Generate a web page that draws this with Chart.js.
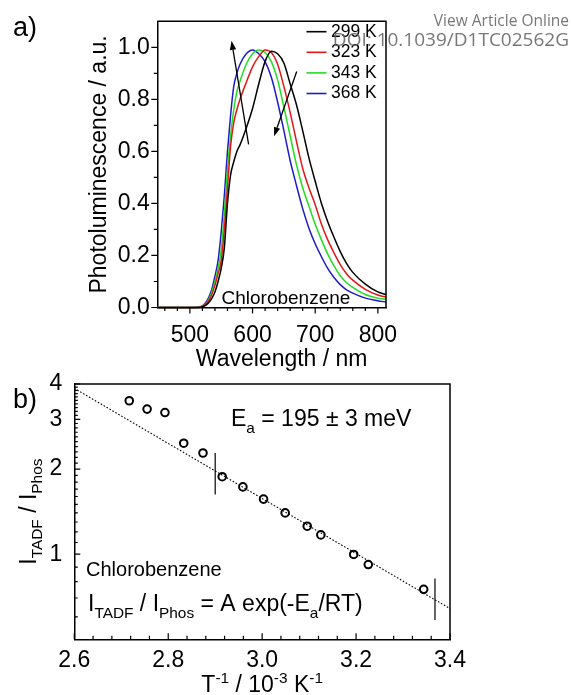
<!DOCTYPE html>
<html>
<head>
<meta charset="utf-8">
<title>PL spectra and TADF/phosphorescence ratio</title>
<script src="https://cdn.jsdelivr.net/npm/chart.js@4/dist/chart.umd.min.js"></script>
<style>
  html, body { margin: 0; padding: 0; background: #fff; }
  #wrap { position: relative; width: 571px; height: 695px; }
  #wrap canvas { position: absolute; left: 0; top: 0; }
</style>
</head>
<body>
<div id="wrap">
  <canvas id="specChart" width="571" height="695"></canvas>
  <canvas id="ratioChart" width="571" height="695"></canvas>
</div>
<script>
// ---- (a) normalised PL spectra in chlorobenzene ----
const wavelengths = [448, 500, 515, 520, 525, 530, 535, 540, 545, 550, 555, 560, 565, 570, 575, 580, 590, 600, 610, 620,
  630, 640, 650, 660, 670, 680, 690, 700, 710, 720, 730, 740, 750, 760, 780, 800, 813];
const pl299 = [0, 0, 0, 0.003, 0.008, 0.018, 0.035, 0.06, 0.1, 0.15, 0.23, 0.4, 0.51, 0.56, 0.6, 0.625, 0.69, 0.765, 0.86, 0.945,
  0.985, 0.975, 0.94, 0.86, 0.78, 0.68, 0.575, 0.485, 0.4, 0.33, 0.27, 0.215, 0.17, 0.135, 0.09, 0.06, 0.05];
const pl323 = [0, 0, 0.001, 0.004, 0.012, 0.026, 0.05, 0.085, 0.13, 0.18, 0.3, 0.46, 0.62, 0.71, 0.76, 0.8, 0.865, 0.925, 0.965, 0.99,
  0.98, 0.935, 0.85, 0.75, 0.64, 0.535, 0.46, 0.395, 0.32, 0.26, 0.21, 0.165, 0.13, 0.105, 0.07, 0.048, 0.04];
const pl343 = [0, 0, 0.001, 0.005, 0.014, 0.03, 0.06, 0.1, 0.15, 0.22, 0.36, 0.53, 0.66, 0.76, 0.83, 0.87, 0.935, 0.975, 0.99, 0.98,
  0.945, 0.875, 0.77, 0.66, 0.55, 0.46, 0.39, 0.32, 0.26, 0.205, 0.16, 0.122, 0.095, 0.077, 0.05, 0.036, 0.031];
const pl368 = [0, 0, 0.002, 0.006, 0.018, 0.038, 0.07, 0.12, 0.18, 0.29, 0.43, 0.6, 0.74, 0.85, 0.9, 0.935, 0.975, 0.99, 0.975, 0.945,
  0.885, 0.79, 0.68, 0.565, 0.47, 0.38, 0.305, 0.245, 0.195, 0.15, 0.115, 0.088, 0.068, 0.055, 0.036, 0.026, 0.021];
const tempLabels = ['299 K', '323 K', '343 K', '368 K'];
const tempColors = ['#000000', '#e01818', '#22dd22', '#1c1cc4'];

const xMajorA = [500, 600, 700, 800];
const xMinorA = [460, 480, 520, 540, 560, 580, 620, 640, 660, 680, 720, 740, 760, 780];
const yMajorA = [0, 0.2, 0.4, 0.6, 0.8, 1.0];
const yMinorA = [0.1, 0.3, 0.5, 0.7, 0.9];

// arrows showing the trend with rising temperature: [wavelength, intensity]
const arrowTails = [[593.7, 0.627], [670.5, 0.907]];
const arrowHeads = [[566.5, 1.025], [634.4, 0.658]];

// ---- (b) I_TADF / I_Phos versus 1/T ----
const invTemp = [2.717, 2.755, 2.793, 2.833, 2.874, 2.915, 2.959, 3.003, 3.049, 3.096, 3.125, 3.195, 3.226, 3.344];
const ratio = [3.49, 3.26, 3.17, 2.47, 2.28, 1.88, 1.73, 1.566, 1.40, 1.256, 1.17, 0.998, 0.919, 0.751];
const fitX = [2.6, 3.4];
const fitY = [3.86, 0.642];
const fitLimitX = [2.900, 3.368];
const fitLimitTop = [2.28, 0.82];
const fitLimitBottom = [1.627, 0.585];

const xMajorB = [2.6, 2.8, 3.0, 3.2, 3.4];
const xMinorB = [2.64, 2.68, 2.72, 2.76, 2.84, 2.88, 2.92, 2.96, 3.04, 3.08, 3.12, 3.16, 3.24, 3.28, 3.32, 3.36];
const yMajorB = [1, 2, 3, 4];
const yMinorB = [0.6, 0.7, 0.8, 0.9, 1.1, 1.2, 1.3, 1.4, 1.5, 1.6, 1.7, 1.8, 1.9,
  2.1, 2.2, 2.3, 2.4, 2.5, 2.6, 2.7, 2.8, 2.9, 3.1, 3.2, 3.3, 3.4, 3.5, 3.6, 3.7, 3.8, 3.9];

const FONT = '"Liberation Sans", Arial, sans-serif';
const H = 695;

// draws a run of text pieces, pieces flagged 'sub' or 'sup' are smaller and shifted
function richText(ctx, parts, x, y, size, align) {
  const small = size * 0.67;
  const widths = parts.map(p => {
    ctx.font = `${p[1] ? small : size}px ${FONT}`;
    return ctx.measureText(p[0]).width;
  });
  const total = widths.reduce((a, b) => a + b, 0);
  let cx = align === 'center' ? x - total / 2 : x;
  ctx.textAlign = 'left';
  ctx.textBaseline = 'alphabetic';
  parts.forEach((p, i) => {
    ctx.font = `${p[1] ? small : size}px ${FONT}`;
    const dy = p[1] === 'sub' ? size * 0.3 : p[1] === 'sup' ? -size * 0.4 : 0;
    ctx.fillText(p[0], cx, y + dy);
    cx += widths[i];
  });
}

function tickMarks(chart, axis, values, len, inward) {
  const { ctx, chartArea: a } = chart;
  const s = chart.scales[axis];
  ctx.beginPath();
  values.forEach(v => {
    const p = s.getPixelForValue(v);
    if (axis === 'x') {
      ctx.moveTo(p, a.bottom);
      ctx.lineTo(p, a.bottom + (inward ? -len : len));
    } else {
      ctx.moveTo(a.left, p);
      ctx.lineTo(a.left + (inward ? len : -len), p);
    }
  });
  ctx.stroke();
}

function frame(chart) {
  const { ctx, chartArea: a } = chart;
  ctx.beginPath();
  ctx.moveTo(a.left, a.top);
  ctx.lineTo(a.right, a.top);
  ctx.lineTo(a.right, a.bottom);
  ctx.stroke();
}

function arrow(ctx, x0, y0, x1, y1) {
  const ang = Math.atan2(y1 - y0, x1 - x0);
  const len = 9, half = 3.2;
  const bx = x1 - len * Math.cos(ang), by = y1 - len * Math.sin(ang);
  ctx.beginPath();
  ctx.moveTo(x0, y0);
  ctx.lineTo(bx, by);
  ctx.stroke();
  ctx.beginPath();
  ctx.moveTo(x1, y1);
  ctx.lineTo(bx + half * Math.sin(ang), by - half * Math.cos(ang));
  ctx.lineTo(bx - half * Math.sin(ang), by + half * Math.cos(ang));
  ctx.closePath();
  ctx.fill();
}

const spectraDecor = {
  id: 'spectraDecor',
  afterDraw(chart) {
    const { ctx, chartArea: a, scales } = chart;
    ctx.save();
    ctx.strokeStyle = '#000';
    ctx.fillStyle = '#000';
    ctx.lineWidth = 1.5;
    frame(chart);
    ctx.lineWidth = 1.2;
    tickMarks(chart, 'x', xMajorA, 6, false);
    tickMarks(chart, 'x', xMinorA, 3.5, false);
    tickMarks(chart, 'y', yMajorA, 6, false);
    tickMarks(chart, 'y', yMinorA, 3.5, false);

    // axis titles
    ctx.save();
    ctx.translate(105.5, (a.top + a.bottom) / 2);
    ctx.rotate(-Math.PI / 2);
    richText(ctx, [['Photoluminescence / a.u.']], 0, 0, 23, 'center');
    ctx.restore();
    richText(ctx, [['Wavelength / nm']], (a.left + a.right) / 2 + 10, 366, 23, 'center');

    // temperature trend arrows
    ctx.lineWidth = 1.3;
    arrowTails.forEach((t, i) => {
      const h = arrowHeads[i];
      arrow(ctx, scales.x.getPixelForValue(t[0]), scales.y.getPixelForValue(t[1]),
        scales.x.getPixelForValue(h[0]), scales.y.getPixelForValue(h[1]));
    });

    // legend
    ctx.font = `17.5px ${FONT}`;
    ctx.textBaseline = 'middle';
    ctx.textAlign = 'left';
    ctx.lineWidth = 1.6;
    chart.data.datasets.forEach((ds, i) => {
      const y = 31.7 + i * 20.6;
      ctx.strokeStyle = ds.borderColor;
      ctx.beginPath();
      ctx.moveTo(306.5, y);
      ctx.lineTo(326.5, y);
      ctx.stroke();
      ctx.fillStyle = '#000';
      ctx.fillText(ds.label, 331, y);
    });

    ctx.fillStyle = '#000';
    richText(ctx, [['Chlorobenzene']], 221.5, 303.5, 19, 'left');
    richText(ctx, [['a)']], 13, 36, 27, 'left');

    // journal watermark
    ctx.fillStyle = 'rgba(95, 95, 95, 0.85)';
    ctx.textAlign = 'right';
    ctx.textBaseline = 'middle';
    ctx.font = '15.5px "Open Sans", "Noto Sans", sans-serif';
    ctx.fillText('View Article Online', 569, 22);
    ctx.font = '19px "Open Sans", "Noto Sans", sans-serif';
    ctx.fillText('DOI: 10.1039/D1TC02562G', 569, 41);
    ctx.restore();
  }
};

const ratioDecor = {
  id: 'ratioDecor',
  afterDraw(chart) {
    const { ctx, chartArea: a } = chart;
    ctx.save();
    ctx.strokeStyle = '#000';
    ctx.fillStyle = '#000';
    ctx.lineWidth = 1.5;
    frame(chart);
    ctx.lineWidth = 1.2;
    tickMarks(chart, 'x', xMajorB, 6, true);
    tickMarks(chart, 'x', xMinorB, 3.5, true);
    tickMarks(chart, 'y', yMajorB, 6, true);
    tickMarks(chart, 'y', yMinorB, 3.5, true);

    ctx.save();
    ctx.translate(35.5, (a.top + a.bottom) / 2);
    ctx.rotate(-Math.PI / 2);
    richText(ctx, [['I'], ['TADF', 'sub'], [' / I'], ['Phos', 'sub']], 0, 0, 23, 'center');
    ctx.restore();
    richText(ctx, [['T'], ['-1', 'sup'], [' / 10'], ['-3', 'sup'], [' K'], ['-1', 'sup']],
      (a.left + a.right) / 2, 692, 23, 'center');

    richText(ctx, [['E'], ['a', 'sub'], [' = 195 \u00b1 3 meV']], 231, 426, 23, 'left');
    richText(ctx, [['Chlorobenzene']], 86, 575.5, 20, 'left');
    richText(ctx, [['I'], ['TADF', 'sub'], [' / I'], ['Phos', 'sub'], [' = A exp(-E'], ['a', 'sub'], ['/RT)']],
      88, 611, 23, 'left');
    richText(ctx, [['b)']], 13, 407.5, 27, 'left');
    ctx.restore();
  }
};

const tickFont = { family: FONT, size: 23 };

new Chart(document.getElementById('specChart'), {
  type: 'line',
  data: {
    datasets: [pl299, pl323, pl343, pl368].map((vals, i) => ({
      label: tempLabels[i],
      data: wavelengths.map((w, k) => ({ x: w, y: vals[k] })),
      borderColor: tempColors[i],
      borderWidth: 1.5,
      pointRadius: 0,
      cubicInterpolationMode: 'monotone',
      clip: false
    }))
  },
  options: {
    responsive: false,
    animation: false,
    events: [],
    layout: { padding: { left: 0, top: 13.5, right: 185, bottom: 0 } },
    plugins: { legend: { display: false }, tooltip: { enabled: false } },
    scales: {
      x: {
        type: 'linear', min: 448, max: 813,
        grid: { display: false, drawTicks: false },
        border: { color: '#000', width: 1.5 },
        ticks: { font: tickFont, color: '#000', padding: 14, maxRotation: 0, autoSkip: false, callback: v => String(v) },
        afterBuildTicks: s => { s.ticks = xMajorA.map(v => ({ value: v })); },
        afterFit: s => { s.height = H - 307.5; }
      },
      y: {
        min: 0, max: 1.1,
        grid: { display: false, drawTicks: false },
        border: { color: '#000', width: 1.5 },
        ticks: { font: tickFont, color: '#000', padding: 7.5, autoSkip: false, callback: v => v.toFixed(1) },
        afterBuildTicks: s => { s.ticks = yMajorA.map(v => ({ value: v })); },
        afterFit: s => { s.width = 157.3; }
      }
    }
  },
  plugins: [spectraDecor]
});

new Chart(document.getElementById('ratioChart'), {
  type: 'line',
  data: {
    datasets: [
      {
        label: 'I_TADF / I_Phos',
        data: invTemp.map((x, k) => ({ x, y: ratio[k] })),
        showLine: false,
        pointRadius: 3.8,
        pointBorderWidth: 2,
        pointBorderColor: '#000',
        pointBackgroundColor: 'rgba(0,0,0,0)'
      },
      {
        label: 'fit',
        data: fitX.map((x, k) => ({ x, y: fitY[k] })),
        borderColor: '#000',
        borderWidth: 1.1,
        borderDash: [1.6, 1.8],
        pointRadius: 0
      },
      ...fitLimitX.map((x, k) => ({
        label: 'fit range',
        data: [{ x, y: fitLimitTop[k] }, { x, y: fitLimitBottom[k] }],
        borderColor: '#000',
        borderWidth: 1.2,
        pointRadius: 0
      }))
    ]
  },
  options: {
    responsive: false,
    animation: false,
    events: [],
    layout: { padding: { left: 0, top: 384, right: 121, bottom: 0 } },
    plugins: { legend: { display: false }, tooltip: { enabled: false } },
    scales: {
      x: {
        type: 'linear', min: 2.6, max: 3.4,
        grid: { display: false, drawTicks: false },
        border: { color: '#000', width: 1.5 },
        ticks: { font: tickFont, color: '#000', padding: 8, maxRotation: 0, autoSkip: false, callback: v => v.toFixed(1) },
        afterBuildTicks: s => { s.ticks = xMajorB.map(v => ({ value: v })); },
        afterFit: s => { s.height = H - 639.3; }
      },
      y: {
        type: 'logarithmic', min: 0.5, max: 4,
        grid: { display: false, drawTicks: false },
        border: { color: '#000', width: 1.5 },
        ticks: { font: tickFont, color: '#000', padding: 12, autoSkip: false, callback: v => String(v) },
        afterBuildTicks: s => { s.ticks = yMajorB.map(v => ({ value: v })); },
        afterFit: s => { s.width = 74.3; }
      }
    }
  },
  plugins: [ratioDecor]
});
</script>
</body>
</html>
